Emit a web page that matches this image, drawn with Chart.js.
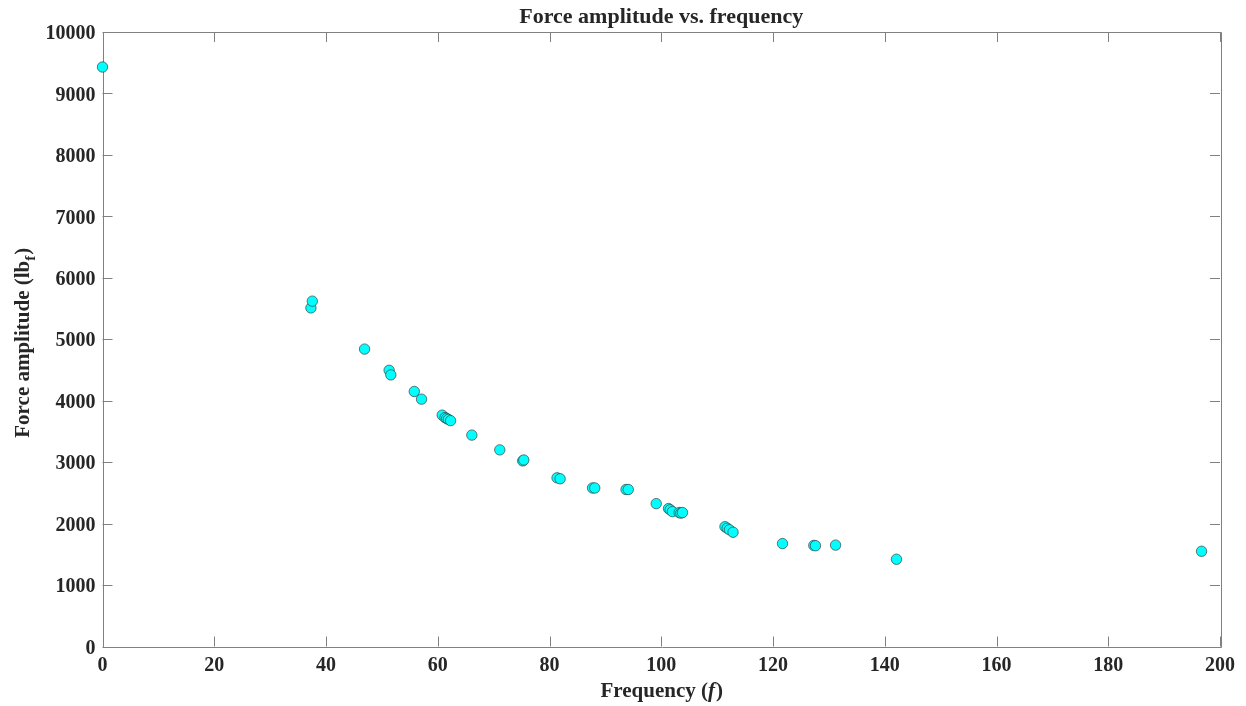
<!DOCTYPE html>
<html>
<head>
<meta charset="utf-8">
<title>Force amplitude vs. frequency</title>
<script src="https://cdn.jsdelivr.net/npm/chart.js@4"></script>
<style>
  html, body { margin: 0; padding: 0; background: #fff; }
  #wrap { width: 1246px; height: 706px; }
</style>
</head>
<body>
<div id="wrap"><canvas id="scatter" width="1246" height="706"></canvas></div>
<script>
// measured frequency (Hz) and the matching force amplitude (lbf)
const freq = [0, 37.3, 37.55, 46.9, 51.3, 51.6, 55.8, 57.1, 60.8, 61.3, 61.6, 61.9, 62.3, 66.1,
    71.1, 75.2, 75.4, 81.35, 81.9, 87.7, 88.1, 93.7, 94.1, 99.1, 101.3, 101.6, 102.0,
    103.2, 103.5, 103.8, 111.4, 111.8, 112.2, 112.85, 121.7, 127.3, 127.6, 131.2, 142.1, 196.7];
const force = [9430, 5510, 5620, 4840, 4495, 4420, 4150, 4025, 3765, 3725, 3710, 3695, 3675, 3440,
    3200, 3020, 3035, 2745, 2730, 2580, 2580, 2555, 2555, 2325, 2245, 2225, 2195,
    2180, 2170, 2180, 1950, 1925, 1900, 1860, 1675, 1645, 1640, 1650, 1420, 1550];

const xTicks = [0, 20, 40, 60, 80, 100, 120, 140, 160, 180, 200];
const yTicks = [0, 1000, 2000, 3000, 4000, 5000, 6000, 7000, 8000, 9000, 10000];

const serif = "'Liberation Serif', 'Times New Roman', serif";
const ink = '#262626';
const axisGray = '#808080';

// box around the axes with inward ticks on all four sides
const boxFrame = {
    id: 'boxFrame',
    beforeDatasetsDraw(chart) {
        const { ctx, chartArea: a, scales: { x, y } } = chart;
        const len = 10;
        ctx.save();
        ctx.strokeStyle = axisGray;
        ctx.lineWidth = 1;
        ctx.beginPath();
        ctx.rect(Math.round(a.left) + 0.5, Math.round(a.top) + 0.5,
            Math.round(a.width), Math.round(a.height));
        xTicks.forEach(v => {
            const px = Math.round(x.getPixelForValue(v)) + 0.5;
            ctx.moveTo(px, a.bottom); ctx.lineTo(px, a.bottom - len);
            ctx.moveTo(px, a.top); ctx.lineTo(px, a.top + len);
        });
        yTicks.forEach(v => {
            const py = Math.round(y.getPixelForValue(v)) + 0.5;
            ctx.moveTo(a.left, py); ctx.lineTo(a.left + len, py);
            ctx.moveTo(a.right, py); ctx.lineTo(a.right - len, py);
        });
        ctx.stroke();
        ctx.restore();
    },
    afterDraw(chart) {
        const { ctx, chartArea: a } = chart;
        const cx = (a.left + a.right) / 2;
        ctx.save();
        ctx.fillStyle = ink;
        ctx.textBaseline = 'alphabetic';

        // title
        ctx.font = 'bold 22px ' + serif;
        ctx.textAlign = 'center';
        ctx.fillText('Force amplitude vs. frequency', cx, 23);

        // x axis title with italic f
        const p1 = 'Frequency (', p2 = 'f', p3 = ')';
        ctx.font = 'bold 21px ' + serif;
        const w1 = ctx.measureText(p1).width, w3 = ctx.measureText(p3).width;
        ctx.font = 'bold italic 21px ' + serif;
        const w2 = ctx.measureText(p2).width;
        let sx = cx - (w1 + w2 + w3) / 2;
        ctx.textAlign = 'left';
        ctx.font = 'bold 21px ' + serif;
        ctx.fillText(p1, sx, 697);
        ctx.font = 'bold italic 21px ' + serif;
        ctx.fillText(p2, sx + w1, 697);
        ctx.font = 'bold 21px ' + serif;
        ctx.fillText(p3, sx + w1 + w2 + 1, 697);

        // y axis title with subscript f
        const q1 = 'Force amplitude (lb', q2 = 'f', q3 = ')';
        ctx.font = 'bold 21px ' + serif;
        const v1 = ctx.measureText(q1).width, v3 = ctx.measureText(q3).width;
        ctx.font = 'bold 15px ' + serif;
        const v2 = ctx.measureText(q2).width;
        const cy = (a.top + a.bottom) / 2 + 4;
        ctx.translate(29, cy);
        ctx.rotate(-Math.PI / 2);
        let sy = -(v1 + v2 + v3) / 2;
        ctx.font = 'bold 21px ' + serif;
        ctx.fillText(q1, sy, 0);
        ctx.font = 'bold 15px ' + serif;
        ctx.fillText(q2, sy + v1, 6);
        ctx.font = 'bold 21px ' + serif;
        ctx.fillText(q3, sy + v1 + v2 + 1, 0);
        ctx.restore();
    }
};

const ctx = document.getElementById('scatter');

new Chart(ctx, {
    type: 'scatter',
    data: {
        datasets: [{
            label: 'Force amplitude',
            data: freq.map((f, i) => ({ x: f, y: force[i] })),
            backgroundColor: '#00ffff',
            borderColor: 'rgba(50, 60, 60, 0.85)',
            borderWidth: 0.8,
            pointRadius: 5.2,
            pointHoverRadius: 5.2,
            clip: false
        }]
    },
    options: {
        responsive: false,
        animation: false,
        events: [],
        layout: { padding: { top: 32, right: 26, left: 0, bottom: 0 } },
        plugins: {
            legend: { display: false },
            title: { display: false },
            tooltip: { enabled: false }
        },
        scales: {
            x: {
                type: 'linear',
                min: 0,
                max: 200,
                afterFit: s => { s.height = 59.5; },
                afterBuildTicks: s => { s.ticks = xTicks.map(v => ({ value: v })); },
                grid: { display: false, drawTicks: false },
                border: { display: false },
                ticks: {
                    padding: 7,
                    color: ink,
                    font: { family: serif, size: 20, weight: 'bold' },
                    maxRotation: 0
                }
            },
            y: {
                type: 'linear',
                min: 0,
                max: 10000,
                afterFit: s => { s.width = 102.5; },
                afterBuildTicks: s => { s.ticks = yTicks.map(v => ({ value: v })); },
                grid: { display: false, drawTicks: false },
                border: { display: false },
                ticks: {
                    padding: 7,
                    labelOffset: 2,
                    color: ink,
                    font: { family: serif, size: 20, weight: 'bold' },
                    callback: v => String(v)
                }
            }
        }
    },
    plugins: [boxFrame]
});
</script>
</body>
</html>
